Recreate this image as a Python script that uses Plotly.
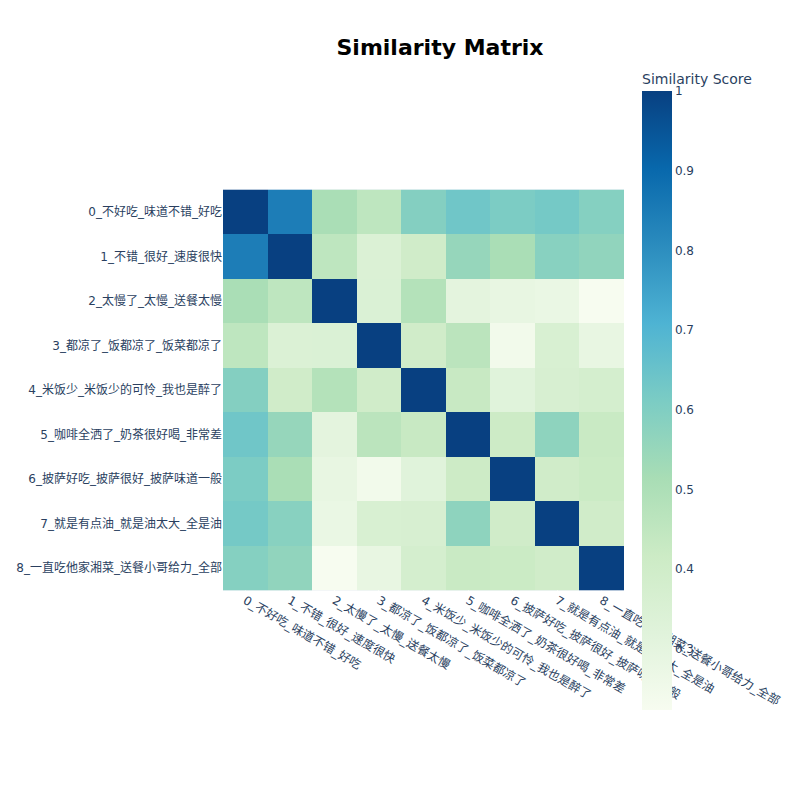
import plotly.express as px

labels = [
    "0_不好吃_味道不错_好吃",
    "1_不错_很好_速度很快",
    "2_太慢了_太慢_送餐太慢",
    "3_都凉了_饭都凉了_饭菜都凉了",
    "4_米饭少_米饭少的可怜_我也是醉了",
    "5_咖啡全洒了_奶茶很好喝_非常差",
    "6_披萨好吃_披萨很好_披萨味道一般",
    "7_就是有点油_就是油太大_全是油",
    "8_一直吃他家湘菜_送餐小哥给力_全部",
]

row0 = [1.000, 0.845, 0.510, 0.455, 0.592, 0.635, 0.610, 0.624, 0.590]
row1 = [0.845, 1.000, 0.455, 0.345, 0.400, 0.553, 0.510, 0.583, 0.564]
row2 = [0.510, 0.455, 1.000, 0.347, 0.482, 0.304, 0.286, 0.278, 0.223]
row3 = [0.455, 0.345, 0.347, 1.000, 0.400, 0.463, 0.244, 0.359, 0.286]
row4 = [0.592, 0.400, 0.482, 0.400, 1.000, 0.428, 0.322, 0.364, 0.378]
row5 = [0.635, 0.553, 0.304, 0.463, 0.428, 1.000, 0.414, 0.571, 0.425]
row6 = [0.610, 0.510, 0.286, 0.244, 0.322, 0.414, 1.000, 0.400, 0.420]
row7 = [0.624, 0.583, 0.278, 0.359, 0.364, 0.571, 0.400, 1.000, 0.400]
row8 = [0.590, 0.564, 0.223, 0.286, 0.378, 0.425, 0.420, 0.400, 1.000]

matrix = [row0, row1, row2, row3, row4, row5, row6, row7, row8]

fig = px.imshow(
    matrix,
    labels=dict(color="Similarity Score"),
    x=labels,
    y=labels,
    color_continuous_scale="GnBu",
)

fig.update_layout(
    font=dict(family="DejaVu Sans, Noto Sans CJK SC, sans-serif"),
    title={
        "text": "<b>Similarity Matrix",
        "y": .95,
        "x": 0.55,
        "xanchor": "center",
        "yanchor": "top",
        "font": dict(size=22, color="Black"),
    },
    width=800,
    height=800,
    margin=dict(l=223, r=176, t=60, b=80),
    hoverlabel=dict(bgcolor="white", font_size=16, font_family="Rockwell"),
)
fig.update_layout(showlegend=True)
fig.update_layout(legend_title_text="Trend")

fig.write_html(
    "out.html",
    config={"displayModeBar": False},
    post_script="document.body.style.margin='0';",
)
